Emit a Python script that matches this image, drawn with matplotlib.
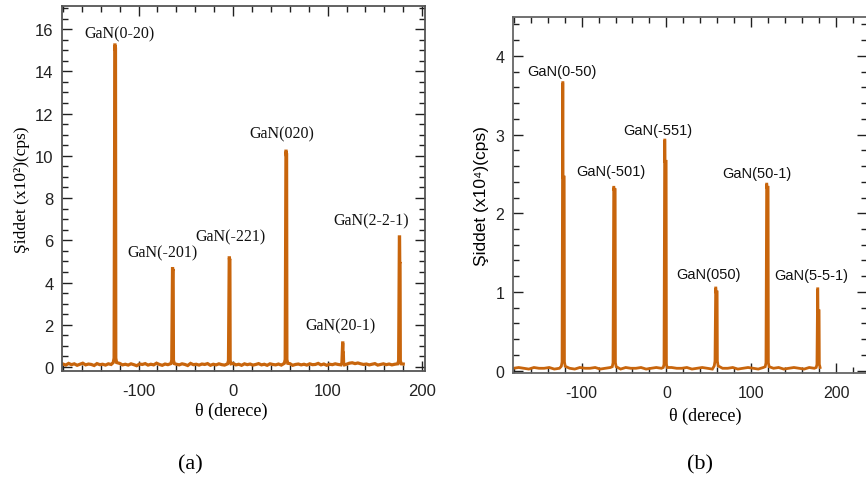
import matplotlib
matplotlib.use("Agg")
import matplotlib.pyplot as plt
from matplotlib.ticker import MultipleLocator

plt.rcParams["axes.unicode_minus"] = False

# (a) GaN phi-scan, intensity in x10^2 cps
peak_pos_a = [-125, -64, -4, 56, 116, 176]
peak_top_a = [15.25, 4.66, 5.17, 10.22, 1.14, 6.16]
peak_sh_a = [15.05, 4.55, 5.05, 10.05, 0.65, 4.90]
peak_foot_a = [0.42, 0.32, 0.30, 0.35, 0.20, 0.30]
labels_a = ["GaN(0-20)", "GaN(-201)", "GaN(-221)", "GaN(020)", "GaN(20-1)", "GaN(2-2-1)"]
label_x_a = [-120.5, -74.3, -2.4, 51.1, 113.7, 146.3]
label_y_a = [15.78, 5.44, 6.20, 11.04, 1.99, 6.93]

# background counts read every 3 degrees
base_x_a = [-180 + 3 * i for i in range(121)]
base_y_a = [0.14, 0.09, 0.17, 0.11, 0.15, 0.08, 0.13, 0.18, 0.10, 0.14,
            0.12, 0.07, 0.16, 0.11, 0.13, 0.09, 0.15, 0.12, 0.08, 0.14,
            0.17, 0.10, 0.13, 0.09, 0.15, 0.11, 0.06, 0.14, 0.12, 0.16,
            0.09, 0.13, 0.10, 0.18, 0.12, 0.08, 0.14, 0.11, 0.16, 0.09,
            0.13, 0.10, 0.15, 0.12, 0.07, 0.17, 0.11, 0.13, 0.09, 0.14,
            0.12, 0.16, 0.08, 0.13, 0.10, 0.15, 0.11, 0.09, 0.14, 0.12,
            0.17, 0.10, 0.13, 0.08, 0.15, 0.11, 0.14, 0.09, 0.12, 0.16,
            0.10, 0.13, 0.08, 0.15, 0.12, 0.10, 0.14, 0.09, 0.13, 0.11,
            0.16, 0.08, 0.12, 0.14, 0.10, 0.13, 0.09, 0.15, 0.11, 0.12,
            0.17, 0.10, 0.14, 0.08, 0.13, 0.11, 0.15, 0.12, 0.09, 0.14,
            0.13, 0.18, 0.20, 0.16, 0.19, 0.15, 0.12, 0.14, 0.10, 0.13,
            0.16, 0.09, 0.12, 0.15, 0.11, 0.14, 0.10, 0.13, 0.16, 0.12,
            0.14]

# (b) GaN phi-scan, intensity in x10^4 cps
peak_pos_b = [-122, -62, -2, 58, 118, 178]
peak_top_b = [3.66, 2.33, 2.93, 1.05, 2.37, 1.04]
peak_sh_b = [2.46, 2.30, 2.66, 1.00, 2.33, 0.76]
peak_foot_b = [0.11, 0.10, 0.08, 0.12, 0.10, 0.08]
labels_b = ["GaN(0-50)", "GaN(-501)", "GaN(-551)", "GaN(050)", "GaN(50-1)", "GaN(5-5-1)"]
label_x_b = [-123.2, -65.5, -10.2, 49.2, 106.2, 170.8]
label_y_b = [3.81, 2.54, 3.06, 1.23, 2.51, 1.22]

base_x_b = [-180 + 6 * i for i in range(61)]
base_y_b = [0.03, 0.04, 0.03, 0.02, 0.04, 0.03, 0.03, 0.04, 0.02, 0.03,
            0.04, 0.03, 0.02, 0.04, 0.03, 0.03, 0.04, 0.02, 0.03, 0.04,
            0.03, 0.02, 0.04, 0.03, 0.03, 0.04, 0.02, 0.03, 0.04, 0.03,
            0.02, 0.04, 0.03, 0.03, 0.04, 0.02, 0.03, 0.04, 0.03, 0.02,
            0.04, 0.03, 0.03, 0.04, 0.02, 0.03, 0.04, 0.03, 0.02, 0.04,
            0.03, 0.03, 0.04, 0.02, 0.03, 0.04, 0.03, 0.02, 0.04, 0.03,
            0.03]

ORANGE = "#c8650c"
SERIF = ["Liberation Serif", "DejaVu Serif"]
SANS = ["Liberation Sans", "DejaVu Sans"]


def build_trace(bx, by, px, ptop, psh, pfoot, sh_off):
    # background points, with those sitting under a peak left out
    pts = [(x, y) for x, y in zip(bx, by) if min(abs(x - p) for p in px) > 2.5]
    for x, top, sh, foot in zip(px, ptop, psh, pfoot):
        pts += [(x - 1.8, foot * 0.5), (x - 0.9, foot), (x - 0.1, top), (x + 0.1, top),
                (x + 0.3, sh), (x + sh_off, sh), (x + sh_off + 0.3, foot),
                (x + sh_off + 1.2, foot * 0.5)]
    pts.sort(key=lambda p: p[0])
    return [p[0] for p in pts], [p[1] for p in pts]


def style_axes(ax, xlim, ylim, ymaj, ymin, fs, spine_col, right_col):
    ax.set_xlim(*xlim)
    ax.set_ylim(*ylim)
    ax.xaxis.set_major_locator(MultipleLocator(100))
    ax.xaxis.set_minor_locator(MultipleLocator(20))
    ax.yaxis.set_major_locator(MultipleLocator(ymaj))
    ax.yaxis.set_minor_locator(MultipleLocator(ymin))
    ax.tick_params(which="both", direction="in", top=True, right=True,
                   color="#202020", width=1.0)
    ax.tick_params(which="major", length=7.5)
    ax.tick_params(which="minor", length=4.5)
    ax.tick_params(axis="x", which="major", pad=9, labelsize=fs)
    ax.tick_params(axis="y", which="major", pad=6, labelsize=fs)
    for lab in ax.get_xticklabels() + ax.get_yticklabels():
        lab.set_family(SANS)
        lab.set_color("#222222")
    for s in ax.spines.values():
        s.set_color(spine_col)
        s.set_linewidth(1.3)
    ax.spines["right"].set_color(right_col)


fig = plt.figure(figsize=(8.66, 4.81), dpi=100)
ax_a = fig.add_axes([62 / 866, 1 - 372 / 481, 363 / 866, 364.7 / 481])
ax_b = fig.add_axes([512.7 / 866, 1 - 374 / 481, 354.3 / 866, 355.7 / 481])

xa, ya = build_trace(base_x_a, base_y_a, peak_pos_a, peak_top_a, peak_sh_a, peak_foot_a, 0.6)
ax_a.plot(xa, ya, color=ORANGE, lw=2.3, solid_joinstyle="miter")
for t, x, y in zip(labels_a, label_x_a, label_y_a):
    ax_a.text(x, y, t, ha="center", va="center", fontsize=11.5, family=SERIF, color="#111111")
style_axes(ax_a, (-181, 203), (-0.19, 17.08), 2, 0.5, 12, "#555555", "#555555")

xb, yb = build_trace(base_x_b, base_y_b, peak_pos_b, peak_top_b, peak_sh_b, peak_foot_b, 1.6)
ax_b.plot(xb, yb, color=ORANGE, lw=2.0, solid_joinstyle="miter")
for t, x, y in zip(labels_b, label_x_b, label_y_b):
    ax_b.text(x, y, t, ha="center", va="center", fontsize=10.5, family=SANS, color="#111111")
style_axes(ax_b, (-181, 236), (-0.03, 4.49), 1, 0.2, 11.5, "#666666", "#aaaaaa")

fig.text(231 / 866, 1 - 411.7 / 481, "θ (derece)", ha="center", va="center",
         fontsize=13, family=SERIF)
fig.text(705 / 866, 1 - 416.7 / 481, "θ (derece)", ha="center", va="center",
         fontsize=13, family=SERIF)
fig.text(22 / 866, 1 - 189.5 / 481, "Şiddet (x10²)(cps)", ha="center", va="center",
         rotation=90, fontsize=12.5, family=SERIF)
fig.text(481.7 / 866, 1 - 196 / 481, "Şiddet (x10⁴)(cps)", ha="center", va="center",
         rotation=90, fontsize=12.5, family=SANS)
fig.text(190 / 866, 1 - 465 / 481, "(a)", ha="center", va="center", fontsize=16, family=SERIF)
fig.text(700 / 866, 1 - 465 / 481, "(b)", ha="center", va="center", fontsize=16, family=SERIF)

fig.savefig("out.png", dpi=100, facecolor="white")
